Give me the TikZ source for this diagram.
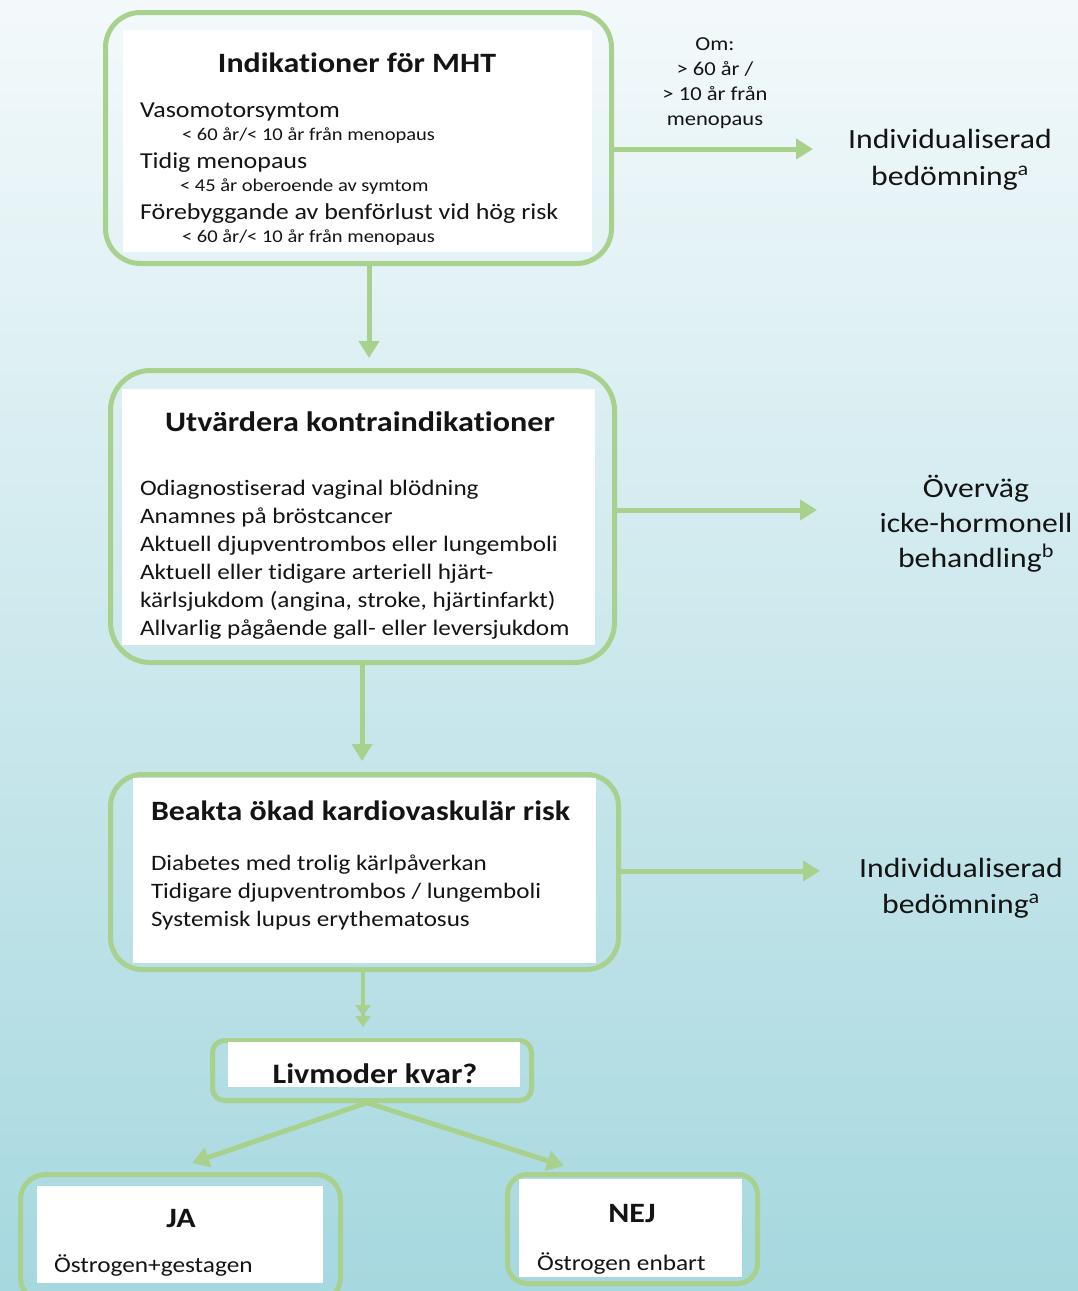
\documentclass[tikz,border=0pt]{standalone}
\usepackage{fontspec}
\setmainfont{Carlito}[FakeStretch=1.14, Ligatures=NoCommon]
\usetikzlibrary{arrows.meta,calc}
\definecolor{grn}{RGB}{169,209,142}
\definecolor{bgtop}{RGB}{243,249,251}
\definecolor{bgmid}{RGB}{206,234,239}
\definecolor{bgbot}{RGB}{166,216,223}
\definecolor{txt}{RGB}{20,20,20}
\newcommand\fsz[1]{\fontsize{#1}{#1}\selectfont}
\tikzset{
  outerbox/.style={draw=grn, line width=5pt, rounded corners=#1, inner sep=0pt},
  whitebox/.style={fill=white, inner sep=0pt, outer sep=0pt, anchor=north west},
  arr/.style={draw=grn, line width=5pt, -{Triangle[length=17pt,width=20pt]}},
  darr/.style={draw=grn, line width=4pt, -{Triangle[length=11pt,width=15pt]Triangle[length=11pt,width=15pt]}},
  tl/.style={inner sep=0pt, outer sep=0pt, anchor=base west, text=txt},
  tc/.style={inner sep=0pt, outer sep=0pt, anchor=base, text=txt},
}
\begin{document}
\begin{tikzpicture}[x=1pt,y=-1pt]
\useasboundingbox (0,0) rectangle (1078,1291);
\clip (0,0) rectangle (1078,1291);
\shade[top color=bgtop, middle color=bgmid, bottom color=bgbot] (0,0) rectangle (1078,1291);

% outer boxes
\node[outerbox=35pt, minimum width=506pt, minimum height=251pt] (b1) at (358.5,138) {};
\node[outerbox=40pt, minimum width=504pt, minimum height=292pt] (b2) at (362.5,516.5) {};
\node[outerbox=32pt, minimum width=508pt, minimum height=195pt] (b3) at (364.5,872) {};
\node[outerbox=12pt, minimum width=319pt, minimum height=60pt] (b4) at (372,1070.5) {};
\node[outerbox=25pt, minimum width=320pt, minimum height=128pt] (b5) at (180.5,1238.5) {};
\node[outerbox=20pt, minimum width=250pt, minimum height=109pt] (b6) at (632.5,1229) {};

% white inner panels
\node[whitebox, minimum width=469pt, minimum height=222pt] (w1) at (123,30) {};
\node[whitebox, minimum width=473pt, minimum height=256pt] (w2) at (122,389) {};
\node[whitebox, minimum width=463pt, minimum height=185pt] (w3) at (133,778) {};
\node[whitebox, minimum width=292pt, minimum height=45pt] (w4) at (228,1042) {};
\node[whitebox, minimum width=286pt, minimum height=97pt] (w5) at (37,1186) {};
\node[whitebox, minimum width=223pt, minimum height=98pt] (w6) at (519,1179) {};

% box 1 text
\node[tc, font=\bfseries\fsz{28}] (h1) at (357,72) {Indikationer för MHT};
\node[tl, font=\fsz{22.8}] (l11) at (140,117) {Vasomotorsymtom};
\node[tl, font=\fsz{18}] (l12) at (182,140) {< 60 år/< 10 år från menopaus};
\node[tl, font=\fsz{22.8}] (l13) at (140,168) {Tidig menopaus};
\node[tl, font=\fsz{18}] (l14) at (180,191) {< 45 år oberoende av symtom};
\node[tl, font=\fsz{22.8}] (l15) at (140,219) {Förebyggande av benförlust vid hög risk};
\node[tl, font=\fsz{18}] (l16) at (182,242) {< 60 år/< 10 år från menopaus};

% box 2 text
\node[tc, font=\bfseries\fsz{28.2}] (h2) at (360,431) {Utvärdera kontraindikationer};
\node[tl, font=\fsz{22.1}] (l21) at (140,495) {Odiagnostiserad vaginal blödning};
\node[tl, font=\fsz{22.1}] (l22) at (140,523) {Anamnes på bröstcancer};
\node[tl, font=\fsz{22.1}] (l23) at (140,551) {Aktuell djupventrombos eller lungemboli};
\node[tl, font=\fsz{22.1}] (l24) at (140,579) {Aktuell eller tidigare arteriell hjärt-};
\node[tl, font=\fsz{22.1}] (l25) at (140,607) {kärlsjukdom (angina, stroke, hjärtinfarkt)};
\node[tl, font=\fsz{22.1}] (l26) at (140,635) {Allvarlig pågående gall- eller leversjukdom};

% box 3 text
\node[tl, font=\bfseries\fsz{28}] (h3) at (151,820) {Beakta ökad kardiovaskulär risk};
\node[tl, font=\fsz{22}] (l31) at (151,870) {Diabetes med trolig kärlpåverkan};
\node[tl, font=\fsz{22}] (l32) at (151,898) {Tidigare djupventrombos / lungemboli};
\node[tl, font=\fsz{22}] (l33) at (151,926) {Systemisk lupus erythematosus};

% box 4-6 text
\node[tc, font=\bfseries\fsz{28.2}] (h4) at (375,1083) {Livmoder kvar?};
\node[tc, font=\bfseries\fsz{28}] (h5) at (181,1227) {JA};
\node[tl, font=\fsz{22.2}] (l51) at (54,1272) {Östrogen+gestagen};
\node[tc, font=\bfseries\fsz{28}] (h6) at (632,1222) {NEJ};
\node[tl, font=\fsz{22.2}] (l61) at (537,1270) {Östrogen enbart};

% right labels
\node[tc, font=\fsz{19.8}] (o1) at (715,50) {Om:};
\node[tc, font=\fsz{19.8}] (o2) at (715,75) {> 60 år /};
\node[tc, font=\fsz{19.8}] (o3) at (715,100) {> 10 år från};
\node[tc, font=\fsz{19.8}] (o4) at (715,125) {menopaus};

\node[tc, font=\fsz{27.8}] (r11) at (950,148) {Individualiserad};
\node[tc, font=\fsz{27.8}] (r12) at (950,185) {bedömning\textsuperscript{a}};
\node[tc, font=\fsz{27.8}] (r21) at (976,497) {Överväg};
\node[tc, font=\fsz{27.8}] (r22) at (976,532) {icke-hormonell};
\node[tc, font=\fsz{27.8}] (r23) at (976,567) {behandling\textsuperscript{b}};
\node[tc, font=\fsz{27.8}] (r31) at (961,877) {Individualiserad};
\node[tc, font=\fsz{27.8}] (r32) at (961,913) {bedömning\textsuperscript{a}};

% connectors
\coordinate (x1) at (369,0);
\coordinate (x2) at (362,0);
\coordinate (x3) at (363,0);
\coordinate (t1) at (813,149);
\coordinate (t2) at (817,510);
\coordinate (t3) at (820,871);
\coordinate (tja) at (192,1163);
\coordinate (tnej) at (564,1166);

\draw[arr, shorten >=10pt] (b1.south -| x1) -- (b2.north -| x1);
\draw[arr, shorten >=11pt] (b2.south -| x2) -- (b3.north -| x2);
\draw[darr, shorten >=11pt] (b3.south -| x3) -- (b4.north -| x3);
\draw[arr, shorten <=-2.5pt] (b1.east |- t1) -- (t1);
\draw[arr, shorten <=-2.5pt] (b2.east |- t2) -- (t2);
\draw[arr, shorten <=-2.5pt] (b3.east |- t3) -- (t3);
\draw[arr, shorten <=-2pt] ($(b4.south)+(-6,0)$) -- (tja);
\draw[arr, shorten <=-2pt] ($(b4.south)+(-4,0)$) -- (tnej);
\end{tikzpicture}
\end{document}
